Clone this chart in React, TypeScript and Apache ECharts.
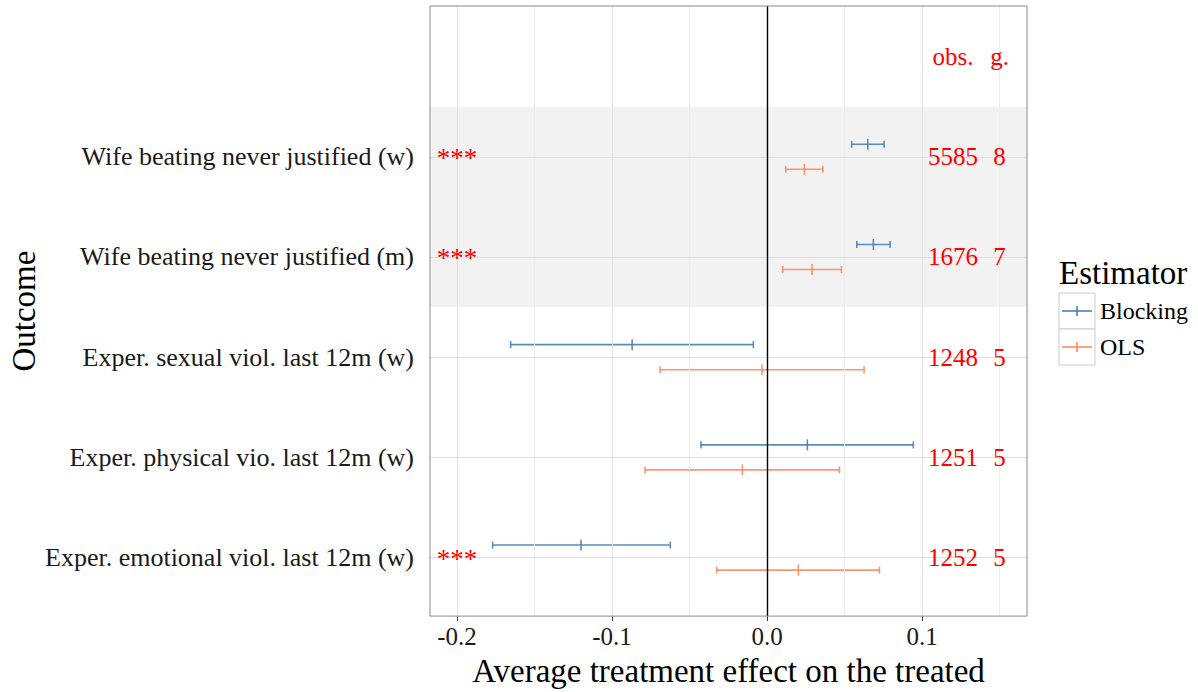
import React, { useEffect, useRef } from "react";
import * as echarts from "echarts";

// ---------- data ----------
// positions 1..5 from bottom to top
const categories = [
  "Exper. emotional viol. last 12m (w)",
  "Exper. physical vio. last 12m (w)",
  "Exper. sexual viol. last 12m (w)",
  "Wife beating never justified (m)",
  "Wife beating never justified (w)",
];
const estimators = ["Blocking", "OLS"];
const blockingEst = [-0.12, 0.026, -0.087, 0.0686, 0.065];
const blockingLow = [-0.177, -0.0426, -0.1654, 0.0579, 0.0546];
const blockingHigh = [-0.0624, 0.0944, -0.0088, 0.0794, 0.0755];
const olsEst = [0.0202, -0.0159, -0.0032, 0.029, 0.0241];
const olsLow = [-0.0325, -0.0787, -0.069, 0.0101, 0.0121];
const olsHigh = [0.0725, 0.0467, 0.0626, 0.048, 0.0361];
const stars = ["***", "", "", "***", "***"];
const observations = [1252, 1251, 1248, 1676, 5585];
const groups = [5, 5, 5, 7, 8];
const headerLabels = ["obs.", "g."];
const xTicks = [-0.2, -0.1, 0.0, 0.1];
const xMinorTicks = [-0.15, -0.05, 0.05, 0.15];
const yTicks = [1, 2, 3, 4, 5];
const shadedCategories = [4, 5];

// ---------- style constants ----------
const FONT = "'Liberation Serif', 'Times New Roman', serif";
const BLUE = "#4a7fb2";
const ORANGE = "#ff8a5e";
const RED = "#ff0000";
const X_MIN = -0.2174;
const X_MAX = 0.1677;
const Y_MIN = 0.416;
const Y_MAX = 6.505;
const DODGE = 0.125;
const X_STARS = -0.2;
const X_OBS = 0.12;
const X_GROUPS = 0.15;
const Y_HEADER = 6;

export default function App() {
  const ref = useRef<HTMLDivElement>(null);

  useEffect(() => {
    if (!ref.current) return;
    const chart = echarts.init(ref.current, null, { renderer: "svg" });

    const blockingData = yTicks.map((y, i) => [y, blockingLow[i], blockingEst[i], blockingHigh[i]]);
    const olsData = yTicks.map((y, i) => [y, olsLow[i], olsEst[i], olsHigh[i]]);

    const makeErrorBar = (color: string, dir: number) => (params: any, api: any) => {
      const y = api.value(0) + dir * DODGE;
      const lo = api.coord([api.value(1), y]);
      const mid = api.coord([api.value(2), y]);
      const hi = api.coord([api.value(3), y]);
      const style = { stroke: color, lineWidth: 1.6, opacity: 0.9 };
      const cap = 3.5;
      const tick = 5.5;
      return {
        type: "group",
        children: [
          { type: "line", shape: { x1: lo[0], y1: lo[1], x2: hi[0], y2: hi[1] }, style },
          { type: "line", shape: { x1: lo[0], y1: lo[1] - cap, x2: lo[0], y2: lo[1] + cap }, style },
          { type: "line", shape: { x1: hi[0], y1: hi[1] - cap, x2: hi[0], y2: hi[1] + cap }, style },
          { type: "line", shape: { x1: mid[0], y1: mid[1] - tick, x2: mid[0], y2: mid[1] + tick }, style },
        ],
      };
    };

    const annotationData = yTicks.map((y, i) => [y, stars[i], String(observations[i]), String(groups[i])]);

    const redText = (text: string, x: number, y: number, size: number) => ({
      type: "text",
      x,
      y,
      style: {
        text,
        fill: RED,
        font: `${size}px ${FONT}`,
        align: "center",
        verticalAlign: "middle",
      },
    });

    const option: any = {
      animation: false,
      backgroundColor: "#ffffff",
      grid: {
        left: 430,
        top: 6,
        width: 597,
        height: 615,
        show: true,
        borderColor: "#8a8a8a",
        borderWidth: 1,
        backgroundColor: "transparent",
        z: 10,
      },
      xAxis: {
        type: "value",
        min: X_MIN,
        max: X_MAX,
        axisLine: { show: false },
        splitLine: { show: false },
        axisTick: {
          show: true,
          customValues: xTicks,
          length: 5,
          lineStyle: { color: "#333333", width: 1 },
        },
        axisLabel: {
          customValues: xTicks,
          formatter: (v: number) => v.toFixed(1),
          color: "#1a1a1a",
          fontFamily: FONT,
          fontSize: 25,
          margin: 8,
        },
        name: "Average treatment effect on the treated",
        nameLocation: "middle",
        nameGap: 35,
        nameTextStyle: { color: "#000", fontFamily: FONT, fontSize: 33 },
      },
      yAxis: {
        type: "value",
        min: Y_MIN,
        max: Y_MAX,
        axisLine: { show: false },
        splitLine: { show: false },
        axisTick: {
          show: true,
          customValues: yTicks,
          length: 6,
          lineStyle: { color: "#333333", width: 1 },
        },
        axisLabel: {
          customValues: yTicks,
          formatter: (v: number) => categories[Math.round(v) - 1] ?? "",
          color: "#1a1a1a",
          fontFamily: FONT,
          fontSize: 26,
          margin: 16,
        },
        name: "Outcome",
        nameLocation: "middle",
        nameRotate: 90,
        nameGap: 390,
        nameTextStyle: { color: "#000", fontFamily: FONT, fontSize: 33 },
      },
      graphic: [
        {
          type: "text",
          left: 1059,
          top: 256,
          style: { text: "Estimator", fill: "#000", font: `33px ${FONT}` },
        },
        ...estimators.map((name, i) => {
          const top = 293 + i * 36;
          const color = i === 0 ? BLUE : ORANGE;
          return {
            type: "group",
            children: [
              {
                type: "rect",
                shape: { x: 1059, y: top, width: 36, height: 36 },
                style: { fill: "#ffffff", stroke: "#cccccc", lineWidth: 1 },
              },
              {
                type: "line",
                shape: { x1: 1062, y1: top + 18, x2: 1092, y2: top + 18 },
                style: { stroke: color, lineWidth: 1.6 },
              },
              {
                type: "line",
                shape: { x1: 1077, y1: top + 13, x2: 1077, y2: top + 23 },
                style: { stroke: color, lineWidth: 1.6 },
              },
              {
                type: "text",
                x: 1100,
                y: top + 18,
                style: { text: name, fill: "#000", font: `24px ${FONT}`, verticalAlign: "middle" },
              },
            ],
          };
        }),
      ],
      series: [
        {
          type: "line",
          data: [],
          z: 1,
          silent: true,
          markArea: {
            silent: true,
            itemStyle: { color: "#f2f2f2" },
            data: [[{ yAxis: shadedCategories[0] - 0.5 }, { yAxis: shadedCategories[1] + 0.5 }]],
          },
        },
        {
          type: "line",
          data: [],
          z: 2,
          silent: true,
          markLine: {
            silent: true,
            symbol: "none",
            label: { show: false },
            data: [
              ...xMinorTicks.map((v) => ({ xAxis: v, lineStyle: { color: "#ededed", width: 1, type: "solid" } })),
              ...xTicks.map((v) => ({ xAxis: v, lineStyle: { color: "#e2e2e2", width: 1, type: "solid" } })),
              ...yTicks.map((v) => ({ yAxis: v, lineStyle: { color: "#e0e0e0", width: 1, type: "solid" } })),
            ],
          },
        },
        {
          name: "Blocking",
          type: "custom",
          z: 3,
          renderItem: makeErrorBar(BLUE, 1),
          encode: { x: [1, 2, 3], y: 0 },
          data: blockingData,
        },
        {
          name: "OLS",
          type: "custom",
          z: 3,
          renderItem: makeErrorBar(ORANGE, -1),
          encode: { x: [1, 2, 3], y: 0 },
          data: olsData,
        },
        {
          type: "line",
          data: [],
          z: 4,
          silent: true,
          markLine: {
            silent: true,
            symbol: "none",
            label: { show: false },
            data: [{ xAxis: 0, lineStyle: { color: "#000000", width: 1.4, type: "solid" } }],
          },
        },
        {
          type: "custom",
          z: 5,
          silent: true,
          renderItem: (params: any, api: any) => {
            const y = api.value(0);
            const pStar = api.coord([X_STARS, y]);
            const pObs = api.coord([X_OBS, y]);
            const pG = api.coord([X_GROUPS, y]);
            return {
              type: "group",
              children: [
                redText(String(api.value(1)), pStar[0], pStar[1] + 1, 27),
                redText(String(api.value(2)), pObs[0], pObs[1], 25),
                redText(String(api.value(3)), pG[0], pG[1], 25),
              ],
            };
          },
          dimensions: ["y", { name: "stars", type: "ordinal" }, { name: "obs", type: "ordinal" }, { name: "g", type: "ordinal" }],
          encode: { x: -1, y: 0 },
          data: annotationData,
        },
        {
          type: "custom",
          z: 5,
          silent: true,
          renderItem: (params: any, api: any) => {
            const pObs = api.coord([X_OBS, Y_HEADER]);
            const pG = api.coord([X_GROUPS, Y_HEADER]);
            return {
              type: "group",
              children: [
                redText(headerLabels[0], pObs[0], pObs[1], 25),
                redText(headerLabels[1], pG[0], pG[1], 25),
              ],
            };
          },
          data: [[0, Y_HEADER]],
          encode: { x: 0, y: 1 },
        },
      ],
    };

    chart.setOption(option);
    return () => chart.dispose();
  }, []);

  return (
    <div
      ref={ref}
      style={{ position: "fixed", left: 0, top: 0, width: 1198, height: 692, background: "#fff" }}
    />
  );
}
